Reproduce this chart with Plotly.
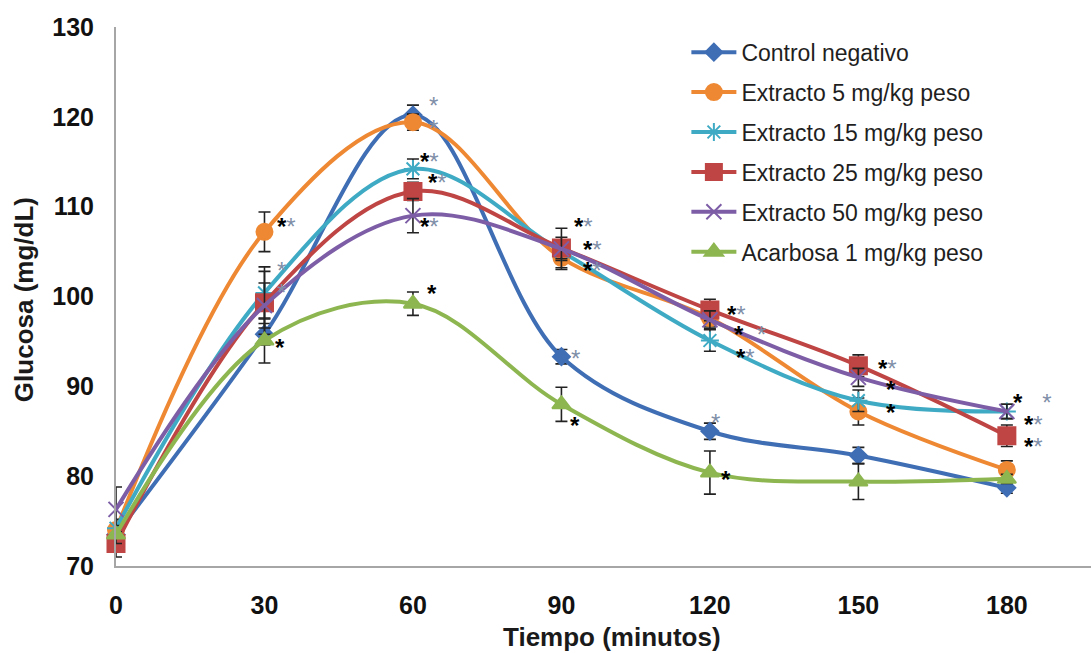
import plotly.graph_objects as go

tiempo = [0, 30, 60, 90, 120, 150, 180]

series_names = [
    "Control negativo",
    "Extracto 5 mg/kg peso",
    "Extracto 15 mg/kg peso",
    "Extracto 25 mg/kg peso",
    "Extracto 50 mg/kg peso",
    "Acarbosa 1 mg/kg peso",
]

control = [73.5, 95.8, 120.2, 93.3, 85.0, 82.3, 78.7]
ext5 = [74.0, 107.2, 119.4, 104.3, 97.6, 87.2, 80.7]
ext15 = [74.2, 100.4, 114.2, 105.0, 95.1, 88.4, 87.2]
ext25 = [72.5, 99.3, 111.7, 105.4, 98.5, 92.3, 84.5]
ext50 = [76.3, 99.0, 109.0, 105.3, 97.4, 91.0, 87.2]
acarbosa = [73.5, 95.1, 99.2, 88.0, 80.4, 79.4, 79.7]

err_control = [1.0, 1.2, 1.1, 0.8, 0.9, 0.9, 0.6]
err_ext5 = [1.0, 2.2, 0.9, 1.1, 1.0, 1.5, 1.0]
err_ext15 = [1.0, 2.9, 1.1, 1.0, 1.2, 1.2, 0.8]
err_ext25 = [1.5, 3.5, 1.0, 1.2, 1.2, 1.2, 1.2]
err_ext50 = [2.5, 2.5, 1.9, 2.3, 1.0, 1.0, 0.8]
err_acarbosa = [1.0, 2.5, 1.3, 1.9, 2.4, 2.0, 0.5]

colors = ["#3F6EB5", "#EE8833", "#3FAAC4", "#BE4543", "#7D5EA6", "#8DB650"]
symbols = ["diamond", "circle", "asterisk-open", "square", "x-thin-open", "triangle-up"]
sizes = [13, 16, 15, 17, 15, 16]

values = [control, ext5, ext15, ext25, ext50, acarbosa]
errors = [err_control, err_ext5, err_ext15, err_ext25, err_ext50, err_acarbosa]

# significance marks: (time, glucose, black part, light part)
sig_x = [34.4, 33.4, 33.4, 33.2,
         64.1, 64.1, 63.4, 64.9, 63.4, 63.9,
         94.4, 96.2, 96.2, 92.8, 92.8,
         125.3, 128.0, 127.2, 121.2, 123.2,
         155.8, 156.6, 156.6,
         185.1, 185.3, 185.3]
sig_y = [108.3, 103.5, 101.0, 94.9,
         121.8, 119.3, 115.6, 113.2, 108.3, 100.9,
         108.3, 105.8, 103.5, 93.7, 86.2,
         98.6, 96.3, 93.8, 86.5, 80.2,
         92.5, 90.2, 87.6,
         88.8, 86.3, 83.9]
sig_black = ["*", "", "", "*",
             "", "", "*", "*", "*", "*",
             "*", "*", "*", "", "*",
             "*", "*  ", "*", "", "*",
             "*", "*", "*",
             "*   ", "*", "*"]
sig_light = ["*", "*", "*", "",
             "*", "*", "*", "*", "*", "",
             "*", "*", "*", "*", "",
             "*", "*", "*", "*", "",
             "*", "", "",
             "*", "*", "*"]

fig = go.Figure()
for i, name in enumerate(series_names):
    fig.add_trace(go.Scatter(
        x=tiempo, y=values[i], name=name, legendgroup=name,
        mode="lines+markers",
        line=dict(color=colors[i], width=4, shape="spline", smoothing=1.0),
        marker=dict(symbol=symbols[i], size=sizes[i], color=colors[i],
                    line=dict(color=colors[i], width=2)),
        error_y=dict(type="data", array=errors[i], visible=True,
                     color="#222222", thickness=1.6, width=6),
        cliponaxis=False,
    ))

for x, y, b, l in zip(sig_x, sig_y, sig_black, sig_light):
    txt = ""
    if b:
        txt += "<b>" + b.replace(" ", "&nbsp;") + "</b>"
    if l:
        txt += "<span style='color:#7F8FA8'>" + l + "</span>"
    fig.add_annotation(x=x, y=y, text=txt, showarrow=False,
                       font=dict(family="Arial", size=24, color="#000000"),
                       xanchor="center", yanchor="middle", yshift=-5)

fig.add_annotation(x=0.509, y=-0.132, xref="paper", yref="paper",
                   text="<b>Tiempo (minutos)</b>", showarrow=False,
                   font=dict(family="Arial", size=26, color="#1a1a1a"),
                   xanchor="center", yanchor="middle")
fig.add_annotation(x=-0.0944, y=0.495, xref="paper", yref="paper",
                   text="<b>Glucosa (mg/dL)</b>", showarrow=False, textangle=-90,
                   font=dict(family="Arial", size=26, color="#1a1a1a"),
                   xanchor="center", yanchor="middle")

fig.update_layout(
    width=1091, height=653,
    margin=dict(l=116, r=0, t=27, b=87),
    plot_bgcolor="white", paper_bgcolor="white",
    font=dict(family="Arial", color="#1a1a1a"),
    legend=dict(x=0.585, y=0.993, xanchor="left", yanchor="top",
                font=dict(family="Arial", size=23, color="#1f1f1f"),
                tracegroupgap=7, itemwidth=45, bgcolor="rgba(0,0,0,0)"),
    xaxis=dict(range=[0, 197], tickvals=[0, 30, 60, 90, 120, 150, 180],
               showgrid=False, zeroline=False, showline=True,
               linecolor="#A6A6A6", linewidth=2, ticks="",
               ticklabelstandoff=16,
               tickfont=dict(family="Arial", size=25, color="#111111", weight="bold")),
    yaxis=dict(range=[70, 130], tickvals=[70, 80, 90, 100, 110, 120, 130],
               showgrid=False, zeroline=False, showline=True,
               linecolor="#A6A6A6", linewidth=2, ticks="",
               ticklabelstandoff=15,
               tickfont=dict(family="Arial", size=25, color="#111111", weight="bold")),
)

fig.write_html("out.html")
